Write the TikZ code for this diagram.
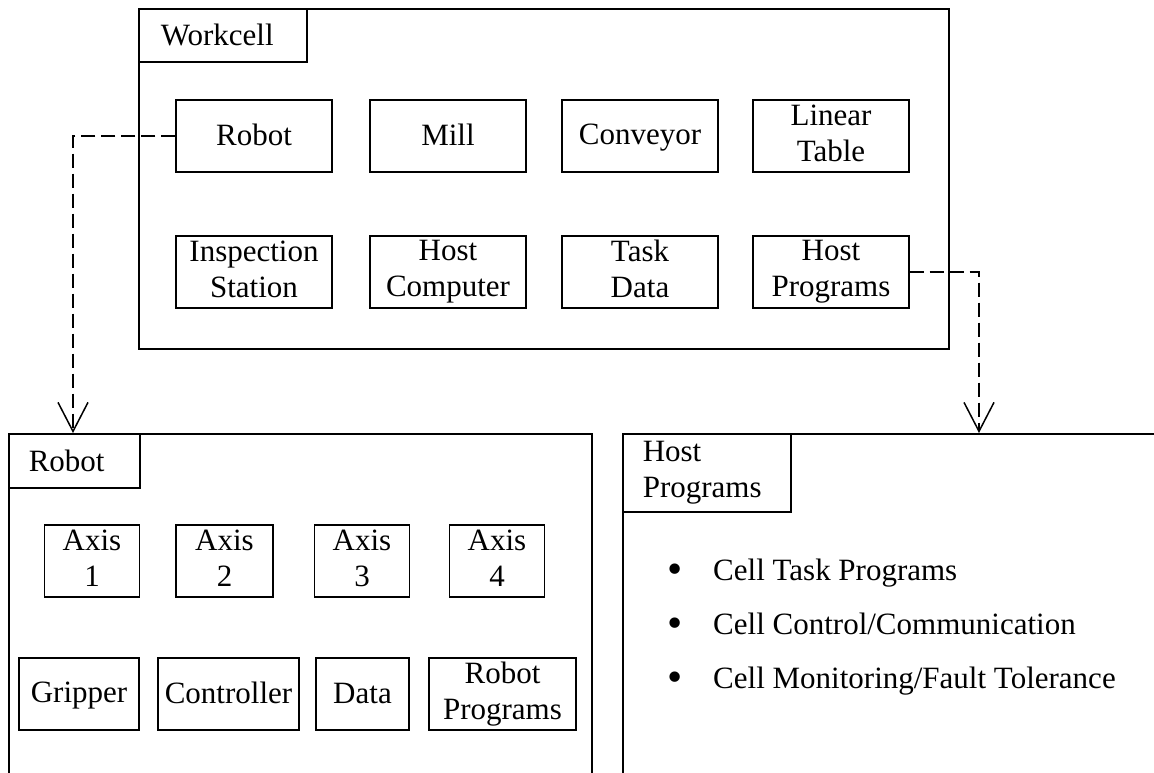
\documentclass[tikz,border=0pt]{standalone}
\usepackage{fontspec}
\setmainfont{Liberation Serif}
\usetikzlibrary{arrows.meta, positioning}

\newcommand{\boxstrut}{\rule[-6pt]{0pt}{30pt}}
\newcommand{\dotmark}{\makebox[46pt][l]{\raisebox{-3pt}{\scalebox{1.4}{\textbullet}}}}

\begin{document}
\begin{tikzpicture}[
    x=1pt, y=-1pt,
    font=\fontsize{31}{36}\selectfont,
    frame/.style={draw, line width=1.6pt, anchor=north west, inner sep=0pt},
    title/.style={draw, line width=1.6pt, anchor=north west, align=left, inner ysep=0pt},
    part/.style={draw, line width=1.4pt, align=center, inner sep=0pt, minimum height=72pt,
        execute at begin node=\boxstrut, execute at end node=\boxstrut},
    item/.style={anchor=base west, inner sep=0pt},
    link/.style={-{Straight Barb[length=29pt, width=30pt]}, line width=1.5pt, dash pattern=on 14pt off 6pt}
]
    \useasboundingbox (0,0) rectangle (1154,772);
    \clip (0,0) rectangle (1154,772);

    % Workcell package
    \node[frame, minimum width=810pt, minimum height=340pt] (workcell) at (138,8) {};
    \node[title, minimum width=168pt, minimum height=53pt, inner xsep=22pt, text width=124pt] (wctitle) at (138,8) {Workcell};

    \node[part, minimum width=156pt] (wcrobot) at (254,136) {Robot};
    \node[part, minimum width=156pt] (wcmill) at (448,136) {Mill};
    \node[part, minimum width=156pt] (wcconveyor) at (640,136) {Conveyor};
    \node[part, minimum width=156pt] (wctable) at (831,136) {Linear\\Table};

    \node[part, minimum width=156pt] (wcinspect) at (254,272) {Inspection\\Station};
    \node[part, minimum width=156pt] (wchost) at (448,272) {Host\\Computer};
    \node[part, minimum width=156pt] (wctask) at (640,272) {Task\\Data};
    \node[part, minimum width=156pt] (wchostprog) at (831,272) {Host\\Programs};

    % Robot package
    \node[frame, minimum width=583pt, minimum height=400pt] (robot) at (8,433) {};
    \node[title, minimum width=131pt, minimum height=54pt, inner xsep=20pt, text width=91pt] (rtitle) at (8,433) {Robot};

    \node[part, minimum width=95pt] (axis1) at (92,561) {Axis\\1};
    \node[part, minimum width=97pt] (axis2) at (224.5,561) {Axis\\2};
    \node[part, minimum width=95pt] (axis3) at (362,561) {Axis\\3};
    \node[part, minimum width=95pt] (axis4) at (497,561) {Axis\\4};

    \node[part, minimum width=120pt] (gripper) at (79,694) {Gripper};
    \node[part, minimum width=141pt] (controller) at (228.5,694) {Controller};
    \node[part, minimum width=93pt] (data) at (362.5,694) {Data};
    \node[part, minimum width=147pt] (rprograms) at (502.5,694) {Robot\\Programs};

    % Host Programs package
    \node[frame, minimum width=600pt, minimum height=400pt] (hostprog) at (622,433) {};
    \node[title, minimum width=168pt, minimum height=78pt, inner xsep=20pt, text width=128pt] (htitle) at (622,433) {Host\\Programs};

    \node[item] (task) at (667,580) {\dotmark Cell Task Programs};
    \node[item] (control) at (667,634) {\dotmark Cell Control/Communication};
    \node[item] (monitor) at (667,688) {\dotmark Cell Monitoring/Fault Tolerance};

    % Dependencies
    \coordinate (robottip) at (73,433);
    \coordinate (hosttip) at (979,433);
    \draw[link] (wcrobot.west) -| (robottip);
    \draw[link] (wchostprog.east) -| (hosttip);
\end{tikzpicture}
\end{document}
